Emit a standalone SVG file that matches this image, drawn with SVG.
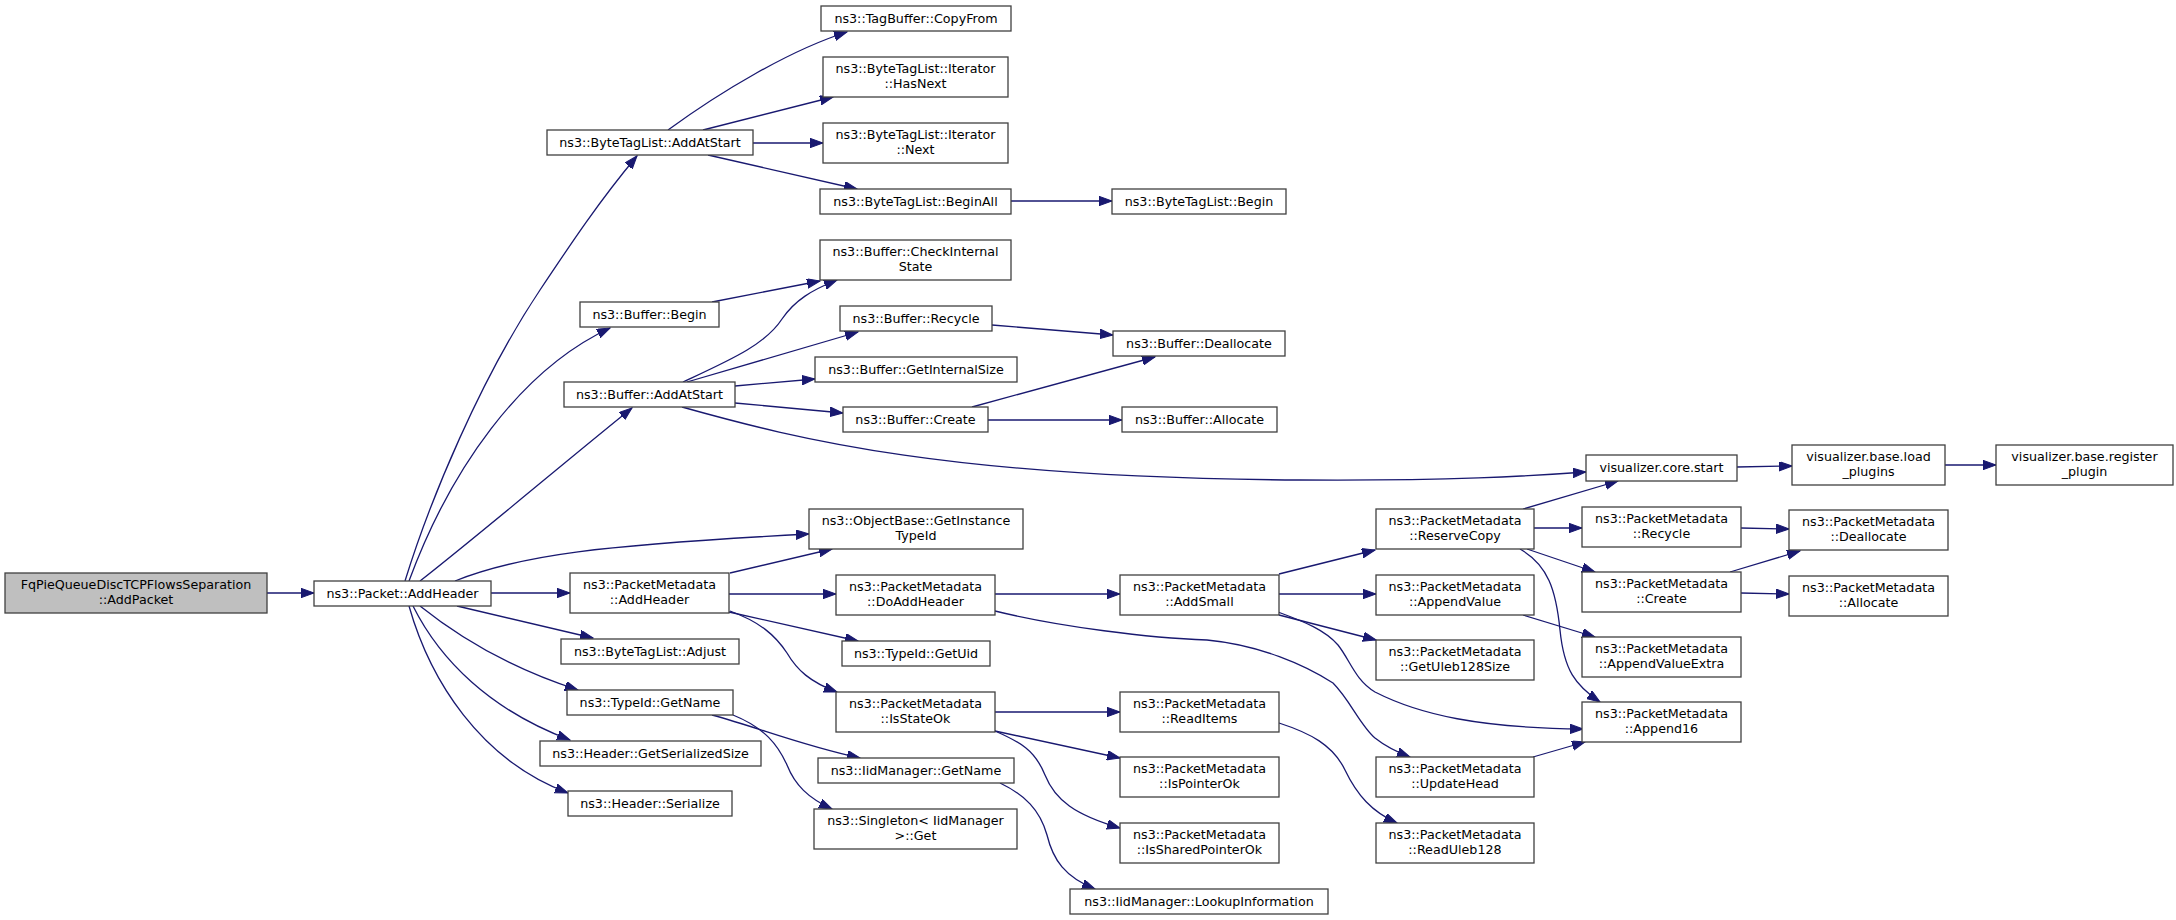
<svg xmlns="http://www.w3.org/2000/svg" width="2176" height="920" viewBox="0 0 2176 920">
<style>
.n rect{fill:#fff;stroke:#404040;stroke-width:1.3}
.root rect{fill:#bfbfbf}
text{font-family:"DejaVu Sans","Liberation Sans",sans-serif;font-size:12.7px;fill:#000;text-anchor:middle}
.e path{fill:none;stroke:#191970;stroke-width:1.3;marker-end:url(#ah)}
</style>
<defs>
<marker id="ah" markerUnits="userSpaceOnUse" markerWidth="14" markerHeight="10" refX="13" refY="4.7" orient="auto"><path d="M0,0 L13,4.7 L0,9.4 z" fill="#191970" stroke="#191970" stroke-width="1"/></marker>
</defs>
<rect width="2176" height="920" fill="#fff"/>
<g class="e" id="edges">
<path d="M267,593 L314,593"/>
<path d="M405,581 C430,500 480,380 540,290 C570,245 600,200 637,156"/>
<path d="M409,581 C450,470 520,370 610,328"/>
<path d="M420,581 C480,534 560,466 632,408"/>
<path d="M455,581 C520,555 600,545 809,534"/>
<path d="M491,593 L570,593"/>
<path d="M457,606 L593,638"/>
<path d="M420,606 C450,630 500,665 578,690"/>
<path d="M413,606 C440,660 490,710 570,740"/>
<path d="M409,606 C430,680 480,760 568,793"/>
<path d="M668,130 C720,92 790,50 847,32"/>
<path d="M703,130 L833,97"/>
<path d="M753,143 L823,143"/>
<path d="M708,155 L857,189"/>
<path d="M1011,201 L1112,201"/>
<path d="M712,302 L820,281"/>
<path d="M683,382 C730,360 765,345 782,319 C795,300 812,290 837,280"/>
<path d="M687,382 L858,332"/>
<path d="M735,386 L815,379"/>
<path d="M735,403 L843,413"/>
<path d="M682,407 C800,440 950,478 1300,480 C1450,481 1530,476 1586,472"/>
<path d="M992,325 L1113,335"/>
<path d="M972,407 L1155,357"/>
<path d="M988,420 L1122,420"/>
<path d="M1737,467 L1792,466"/>
<path d="M1945,465 L1996,465"/>
<path d="M730,573 L832,549"/>
<path d="M729,594 L836,594"/>
<path d="M729,612 L858,641"/>
<path d="M730,611 C760,622 775,635 787,653 C797,670 810,682 837,692"/>
<path d="M995,594 L1120,594"/>
<path d="M995,611 C1060,627 1150,638 1207,640 C1260,645 1305,665 1333,683 C1350,700 1360,725 1375,738 C1385,746 1397,752 1410,757"/>
<path d="M1279,574 L1375,550"/>
<path d="M1279,594 L1376,594"/>
<path d="M1279,615 L1376,640"/>
<path d="M1278,612 C1305,622 1325,630 1338,645 C1350,660 1355,680 1375,692 C1420,715 1480,728 1583,729"/>
<path d="M1523,509 L1618,481"/>
<path d="M1534,528 L1582,528"/>
<path d="M1527,549 L1595,572"/>
<path d="M1520,549 C1548,565 1556,590 1560,630 C1564,670 1575,685 1600,702"/>
<path d="M1523,615 L1595,637"/>
<path d="M1741,528 L1789,529"/>
<path d="M1730,572 L1800,551"/>
<path d="M1741,593 L1789,594"/>
<path d="M712,715 C760,728 800,745 860,758"/>
<path d="M733,715 C765,728 778,745 787,765 C795,785 808,798 832,809"/>
<path d="M995,712 L1120,712"/>
<path d="M995,731 L1120,758"/>
<path d="M995,731 C1020,742 1035,750 1045,775 C1055,800 1075,815 1120,828"/>
<path d="M1000,783 C1025,795 1040,810 1047,835 C1053,860 1065,877 1095,889"/>
<path d="M1279,723 C1310,733 1333,745 1345,770 C1357,795 1372,812 1397,823"/>
<path d="M1533,757 L1585,742"/>
</g>
<g class="n root" id="n0"><rect x="5" y="573" width="262" height="40"/><text x="136" y="589">FqPieQueueDiscTCPFlowsSeparation</text><text x="136" y="604">::AddPacket</text></g>
<g class="n" id="n1"><rect x="314" y="581" width="177" height="25"/><text x="402.5" y="598">ns3::Packet::AddHeader</text></g>
<g class="n" id="n2"><rect x="547" y="130" width="206" height="25"/><text x="650" y="147">ns3::ByteTagList::AddAtStart</text></g>
<g class="n" id="n3"><rect x="821" y="6" width="190" height="25"/><text x="916" y="23">ns3::TagBuffer::CopyFrom</text></g>
<g class="n" id="n4"><rect x="823" y="57" width="185" height="40"/><text x="915.5" y="73">ns3::ByteTagList::Iterator</text><text x="915.5" y="88">::HasNext</text></g>
<g class="n" id="n5"><rect x="823" y="123" width="185" height="40"/><text x="915.5" y="139">ns3::ByteTagList::Iterator</text><text x="915.5" y="154">::Next</text></g>
<g class="n" id="n6"><rect x="820" y="189" width="191" height="25"/><text x="915.5" y="206">ns3::ByteTagList::BeginAll</text></g>
<g class="n" id="n7"><rect x="1112" y="189" width="174" height="25"/><text x="1199" y="206">ns3::ByteTagList::Begin</text></g>
<g class="n" id="n8"><rect x="580" y="302" width="139" height="25"/><text x="649.5" y="319">ns3::Buffer::Begin</text></g>
<g class="n" id="n9"><rect x="820" y="240" width="191" height="40"/><text x="915.5" y="256">ns3::Buffer::CheckInternal</text><text x="915.5" y="271">State</text></g>
<g class="n" id="n10"><rect x="564" y="382" width="171" height="25"/><text x="649.5" y="399">ns3::Buffer::AddAtStart</text></g>
<g class="n" id="n11"><rect x="840" y="306" width="152" height="25"/><text x="916" y="323">ns3::Buffer::Recycle</text></g>
<g class="n" id="n12"><rect x="815" y="357" width="202" height="25"/><text x="916" y="374">ns3::Buffer::GetInternalSize</text></g>
<g class="n" id="n13"><rect x="843" y="407" width="145" height="25"/><text x="915.5" y="424">ns3::Buffer::Create</text></g>
<g class="n" id="n14"><rect x="1113" y="331" width="172" height="25"/><text x="1199" y="348">ns3::Buffer::Deallocate</text></g>
<g class="n" id="n15"><rect x="1122" y="407" width="155" height="25"/><text x="1199.5" y="424">ns3::Buffer::Allocate</text></g>
<g class="n" id="n16"><rect x="1586" y="455" width="151" height="26"/><text x="1661.5" y="472">visualizer.core.start</text></g>
<g class="n" id="n17"><rect x="1792" y="445" width="153" height="40"/><text x="1868.5" y="461">visualizer.base.load</text><text x="1868.5" y="476">_plugins</text></g>
<g class="n" id="n18"><rect x="1996" y="445" width="177" height="40"/><text x="2084.5" y="461">visualizer.base.register</text><text x="2084.5" y="476">_plugin</text></g>
<g class="n" id="n19"><rect x="809" y="509" width="214" height="40"/><text x="916" y="525">ns3::ObjectBase::GetInstance</text><text x="916" y="540">TypeId</text></g>
<g class="n" id="n20"><rect x="570" y="573" width="159" height="40"/><text x="649.5" y="589">ns3::PacketMetadata</text><text x="649.5" y="604">::AddHeader</text></g>
<g class="n" id="n21"><rect x="836" y="575" width="159" height="40"/><text x="915.5" y="591">ns3::PacketMetadata</text><text x="915.5" y="606">::DoAddHeader</text></g>
<g class="n" id="n22"><rect x="1120" y="575" width="159" height="40"/><text x="1199.5" y="591">ns3::PacketMetadata</text><text x="1199.5" y="606">::AddSmall</text></g>
<g class="n" id="n23"><rect x="1376" y="509" width="158" height="40"/><text x="1455" y="525">ns3::PacketMetadata</text><text x="1455" y="540">::ReserveCopy</text></g>
<g class="n" id="n24"><rect x="1376" y="575" width="158" height="40"/><text x="1455" y="591">ns3::PacketMetadata</text><text x="1455" y="606">::AppendValue</text></g>
<g class="n" id="n25"><rect x="1376" y="640" width="158" height="40"/><text x="1455" y="656">ns3::PacketMetadata</text><text x="1455" y="671">::GetUleb128Size</text></g>
<g class="n" id="n26"><rect x="1582" y="507" width="159" height="40"/><text x="1661.5" y="523">ns3::PacketMetadata</text><text x="1661.5" y="538">::Recycle</text></g>
<g class="n" id="n27"><rect x="1789" y="510" width="159" height="40"/><text x="1868.5" y="526">ns3::PacketMetadata</text><text x="1868.5" y="541">::Deallocate</text></g>
<g class="n" id="n28"><rect x="1582" y="572" width="159" height="40"/><text x="1661.5" y="588">ns3::PacketMetadata</text><text x="1661.5" y="603">::Create</text></g>
<g class="n" id="n29"><rect x="1789" y="576" width="159" height="40"/><text x="1868.5" y="592">ns3::PacketMetadata</text><text x="1868.5" y="607">::Allocate</text></g>
<g class="n" id="n30"><rect x="1582" y="637" width="159" height="40"/><text x="1661.5" y="653">ns3::PacketMetadata</text><text x="1661.5" y="668">::AppendValueExtra</text></g>
<g class="n" id="n31"><rect x="1582" y="702" width="159" height="40"/><text x="1661.5" y="718">ns3::PacketMetadata</text><text x="1661.5" y="733">::Append16</text></g>
<g class="n" id="n32"><rect x="561" y="639" width="178" height="25"/><text x="650" y="656">ns3::ByteTagList::Adjust</text></g>
<g class="n" id="n33"><rect x="842" y="641" width="148" height="25"/><text x="916" y="658">ns3::TypeId::GetUid</text></g>
<g class="n" id="n34"><rect x="567" y="690" width="166" height="25"/><text x="650" y="707">ns3::TypeId::GetName</text></g>
<g class="n" id="n35"><rect x="836" y="692" width="159" height="40"/><text x="915.5" y="708">ns3::PacketMetadata</text><text x="915.5" y="723">::IsStateOk</text></g>
<g class="n" id="n36"><rect x="540" y="741" width="221" height="25"/><text x="650.5" y="758">ns3::Header::GetSerializedSize</text></g>
<g class="n" id="n37"><rect x="818" y="758" width="196" height="25"/><text x="916" y="775">ns3::IidManager::GetName</text></g>
<g class="n" id="n38"><rect x="568" y="791" width="164" height="25"/><text x="650" y="808">ns3::Header::Serialize</text></g>
<g class="n" id="n39"><rect x="814" y="809" width="203" height="40"/><text x="915.5" y="825">ns3::Singleton&lt; IidManager</text><text x="915.5" y="840"> &gt;::Get</text></g>
<g class="n" id="n40"><rect x="1120" y="692" width="159" height="40"/><text x="1199.5" y="708">ns3::PacketMetadata</text><text x="1199.5" y="723">::ReadItems</text></g>
<g class="n" id="n41"><rect x="1120" y="757" width="159" height="40"/><text x="1199.5" y="773">ns3::PacketMetadata</text><text x="1199.5" y="788">::IsPointerOk</text></g>
<g class="n" id="n42"><rect x="1120" y="823" width="159" height="40"/><text x="1199.5" y="839">ns3::PacketMetadata</text><text x="1199.5" y="854">::IsSharedPointerOk</text></g>
<g class="n" id="n43"><rect x="1376" y="757" width="158" height="40"/><text x="1455" y="773">ns3::PacketMetadata</text><text x="1455" y="788">::UpdateHead</text></g>
<g class="n" id="n44"><rect x="1376" y="823" width="158" height="40"/><text x="1455" y="839">ns3::PacketMetadata</text><text x="1455" y="854">::ReadUleb128</text></g>
<g class="n" id="n45"><rect x="1070" y="889" width="258" height="25"/><text x="1199" y="906">ns3::IidManager::LookupInformation</text></g>
</svg>
